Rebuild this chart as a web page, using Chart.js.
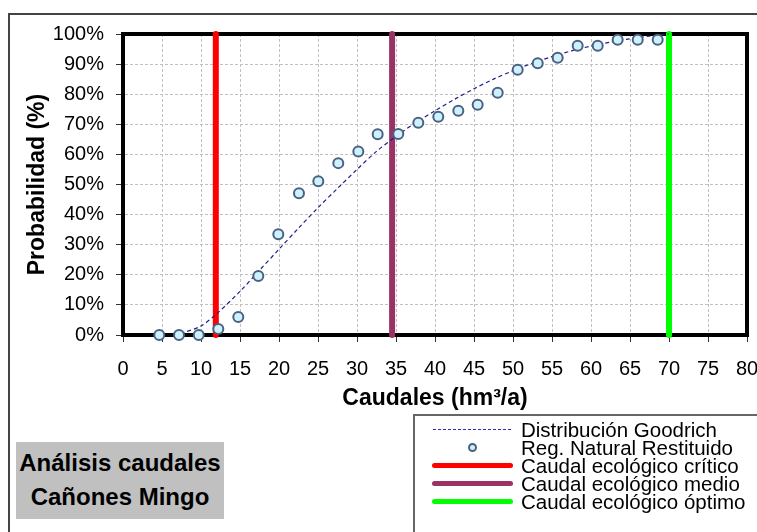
<!DOCTYPE html>
<html>
<head>
<meta charset="utf-8">
<script src="https://cdn.jsdelivr.net/npm/chart.js@4"></script>
<style>
  html, body { margin: 0; padding: 0; background: #fff; }
  body { width: 757px; height: 532px; overflow: hidden; position: relative; font-family: 'Liberation Sans', Arial, sans-serif; }
  #frame { position: absolute; left: 8px; top: 13px; width: 900px; height: 700px; border-top: 2px solid #444; border-left: 2px solid #444; }
  #chart { position: absolute; left: 0; top: 0; }
  #caption { position: absolute; left: 16px; top: 442px; width: 208px; height: 77px; box-sizing: border-box; padding-top: 4px;
    background: #c0c0c0; font-weight: bold; font-size: 24px; line-height: 34px; text-align: center; color: #000; }
  #legend { position: absolute; left: 413px; top: 414px; width: 500px; height: 200px; border: 2px solid #666;
    padding: 5px 0 0 17px; box-sizing: border-box; font-size: 20.5px; color: #000; }
  .row { display: flex; align-items: center; height: 17.9px; line-height: 17.9px; white-space: nowrap; }
  .sym { width: 81px; display: flex; align-items: center; justify-content: center; margin-right: 8px; }
  .dots { width: 79px; height: 1px; background: repeating-linear-gradient(to right, #2c2cb0 0 3px, transparent 3px 5px); }
  .circ { width: 5px; height: 5px; border: 2px solid #4d6080; background: #ccf2ff; border-radius: 50%; }
  .bar { width: 81px; height: 5px; border-radius: 3px; }
</style>
</head>
<body>
<div id="frame"></div>
<canvas id="chart" width="757" height="532"></canvas>
<div id="caption">Análisis caudales<br>Cañones Mingo</div>
<div id="legend"></div>
<script>
// observed points (Reg. Natural Restituido)
const flowX = [4.65, 7.18, 9.71, 12.22, 14.78, 17.35, 19.91, 22.56, 25.04, 27.6, 30.17, 32.65, 35.29,
  37.86, 40.42, 42.99, 45.47, 48.04, 50.6, 53.17, 55.73, 58.29, 60.86, 63.42, 65.99, 68.55];
const probY = [0, 0, 0, 2.0, 6.0, 19.6, 33.5, 47.1, 51.1, 57.1, 61.0, 66.7, 66.8,
  70.5, 72.5, 74.5, 76.5, 80.5, 88.1, 90.3, 92.1, 96.1, 96.1, 98.1, 98.1, 98.1];

// fitted Goodrich curve
const curveX = [6.5, 8, 10, 12, 15, 17.5, 20, 22.5, 25, 27.5, 30, 32.5, 35, 37.5, 40, 42.5, 45,
  47.5, 50, 52.5, 55, 57.5, 60, 62.5, 65, 67.5, 70];
const curveY = [0, 1, 3, 7, 14.5, 21.5, 28.5, 35.5, 42.3, 48.7, 55, 61, 66, 70.5, 74.5, 78.3, 81.8,
  85, 87.8, 90.3, 92.5, 94.4, 96, 97.3, 98.4, 99.3, 100];

// ecological flows
const ecoLabels = ['Caudal ecológico crítico', 'Caudal ecológico medio', 'Caudal ecológico óptimo'];
const ecoFlows = [11.9, 34.5, 70];
const ecoColors = ['#ff0000', '#993366', '#00ff00'];

const xTicks = { min: 0, max: 80, step: 5 };
const yTicks = { min: 0, max: 100, step: 10 };

Chart.defaults.font.family = "'Liberation Sans', Arial, sans-serif";
Chart.defaults.color = '#000';

const plotFrame = {
  id: 'plotFrame',
  beforeDatasetsDraw(chart) {
    const { ctx, chartArea: a } = chart;
    ctx.save();
    ctx.strokeStyle = '#000';
    ctx.lineWidth = 4;
    ctx.strokeRect(a.left, a.top, a.right - a.left, a.bottom - a.top);
    ctx.restore();
  }
};

const datasets = [
  {
    label: 'Reg. Natural Restituido',
    data: flowX.map((x, i) => ({ x, y: probY[i] })),
    pointRadius: 5,
    pointBorderWidth: 2,
    pointBorderColor: '#4d6080',
    pointBackgroundColor: '#ccf2ff',
    showLine: false,
    clip: false,
    order: 0
  },
  {
    label: 'Distribución Goodrich',
    data: curveX.map((x, i) => ({ x, y: curveY[i] })),
    showLine: true,
    borderColor: '#1e1e8a',
    borderWidth: 1.2,
    borderDash: [4, 3],
    pointRadius: 0,
    tension: 0.3,
    clip: false,
    order: 1
  }
];
ecoFlows.forEach((v, i) => {
  datasets.push({
    label: ecoLabels[i],
    data: [{ x: v, y: yTicks.min }, { x: v, y: yTicks.max }],
    showLine: true,
    borderColor: ecoColors[i],
    borderWidth: 6,
    borderCapStyle: 'round',
    pointRadius: 0,
    clip: false,
    order: 2
  });
});

new Chart(document.getElementById('chart'), {
  type: 'scatter',
  data: { datasets },
  options: {
    responsive: false,
    animation: false,
    layout: { padding: { left: 24, top: 34, right: 10, bottom: 115 } },
    plugins: { legend: { display: false }, tooltip: { enabled: false } },
    scales: {
      x: {
        type: 'linear',
        min: xTicks.min, max: xTicks.max,
        ticks: { stepSize: xTicks.step, font: { size: 20 }, padding: 15, maxRotation: 0 },
        grid: { color: '#c0c0c0', tickColor: '#333', tickLength: 7, lineWidth: 1 },
        border: { display: true, color: '#000', width: 4, dash: [3, 2] },
        title: { display: true, text: 'Caudales (hm³/a)', font: { size: 23, weight: 'bold' }, padding: { top: 0, bottom: 5 } },
        afterFit(s) { s.height = 82; s.paddingLeft = 0; s.paddingRight = 0; }
      },
      y: {
        min: yTicks.min, max: yTicks.max,
        ticks: { stepSize: yTicks.step, font: { size: 20 }, padding: 12, callback: v => v + '%' },
        grid: { color: '#c0c0c0', tickColor: '#333', tickLength: 7, lineWidth: 1 },
        border: { display: true, color: '#000', width: 4, dash: [3, 2] },
        title: { display: true, text: 'Probabilidad (%)', font: { size: 23, weight: 'bold' }, padding: { top: 0, bottom: 0 } },
        afterFit(s) { s.width = 99; s.paddingTop = 0; s.paddingBottom = 0; }
      }
    }
  },
  plugins: [plotFrame]
});

// legend (same order as the original)
const legendRows = [
  { text: 'Distribución Goodrich', sym: '<span class="dots"></span>' },
  { text: 'Reg. Natural Restituido', sym: '<span class="circ"></span>' }
].concat(ecoLabels.map((t, i) => ({ text: t, sym: '<span class="bar" style="background:' + ecoColors[i] + '"></span>' })));
document.getElementById('legend').innerHTML = legendRows
  .map(r => '<div class="row"><span class="sym">' + r.sym + '</span><span>' + r.text + '</span></div>')
  .join('');
</script>
</body>
</html>
